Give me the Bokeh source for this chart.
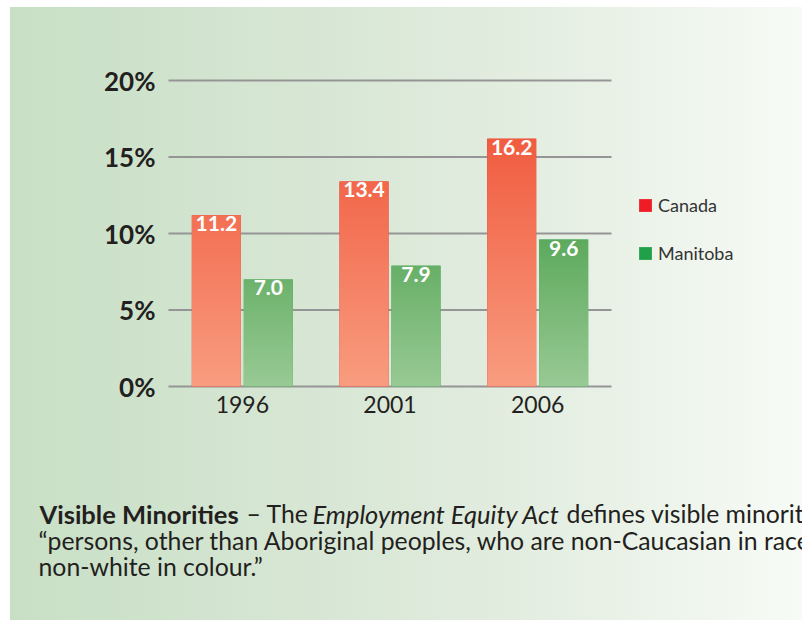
import numpy as np
from bokeh.plotting import figure
from bokeh.models import Range1d, Legend, LegendItem, Label, ColumnDataSource
from bokeh.embed import file_html
from bokeh.resources import INLINE
from bokeh.core.properties import value

# ---- data ----
years = ["1996", "2001", "2006"]
canada = [11.2, 13.4, 16.2]
manitoba = [7.0, 7.9, 9.6]
y_ticks = [0, 5, 10, 15, 20]
y_tick_labels = ["0%", "5%", "10%", "15%", "20%"]
series_names = ["Canada", "Manitoba"]

FONT = "Lato"
W, H = 802, 620
X0_PX, CAT_PX = 168, 147.67     # left edge of category axis, px per category
Y0_PX, UNIT_PX = 386, 15.3      # baseline px, px per percent

# frame covers the whole canvas; ranges map page pixels to data
x_range = Range1d((0 - X0_PX) / CAT_PX, (W - X0_PX) / CAT_PX)
y_range = Range1d((Y0_PX - H) / UNIT_PX, Y0_PX / UNIT_PX)

def dx(px):
    return (px - X0_PX) / CAT_PX

def dy(py):
    return (Y0_PX - py) / UNIT_PX

p = figure(width=W, height=H, output_backend="svg", toolbar_location=None,
           x_range=x_range, y_range=y_range,
           x_axis_location=None, y_axis_location=None,
           min_border=0, min_border_left=0, min_border_right=0,
           min_border_top=0, min_border_bottom=0)
p.background_fill_color = None
p.border_fill_color = None
p.outline_line_color = None
p.grid.visible = False
p.styles = {
    "background-color": "white",
    "background-image": "linear-gradient(to right, #c8dfc5 0%, #d6e6d3 35%, #e3ede0 65%, #f7fbf6 100%)",
    "background-repeat": "no-repeat",
    "background-position": "10px 7px",
    "background-size": "792px 613px",
}

# grid lines across the categories
n = len(years)
p.segment(x0=[0] * len(y_ticks), x1=[n] * len(y_ticks), y0=y_ticks, y1=y_ticks,
          line_color="#959595", line_width=2)

# y tick labels
p.text(x=[0] * len(y_ticks), y=y_ticks, text=y_tick_labels, text_align="right",
       text_baseline="middle", x_offset=-13, text_font=value(FONT), text_font_style="bold",
       text_font_size="26px", text_color="#231f20")

# x (category) labels
centers = [i + 0.5 for i in range(n)]
p.text(x=centers, y=[0] * n, text=years, text_align="center", text_baseline="top",
       y_offset=9, text_font=value(FONT), text_font_size="23px", text_color="#231f20")

OFF, BW = 0.176, 0.332

def hex2rgb(h):
    h = h.lstrip("#")
    return np.array([int(h[i:i + 2], 16) for i in (0, 2, 4)], dtype=float)

def grad_images(vals, c_bottom, c_top, ref):
    c0, c1 = hex2rgb(c_bottom), hex2rgb(c_top)
    imgs = []
    N = 200
    for v in vals:
        ys = (np.arange(N) + 0.5) / N * v
        t = np.clip(ys / ref, 0, 1)[:, None]
        cols = c0 + (c1 - c0) * t
        img = np.empty((N, 1), dtype=np.uint32)
        view = img.view(dtype=np.uint8).reshape((N, 1, 4))
        view[:, 0, 0] = cols[:, 0]
        view[:, 0, 1] = cols[:, 1]
        view[:, 0, 2] = cols[:, 2]
        view[:, 0, 3] = 255
        imgs.append(img)
    return imgs

leg_colors = ["#ee1c25", "#21a04a"]
specs = [
    (canada, -OFF, leg_colors[0], "#f99d80", "#f15c40", 16.2),
    (manitoba, OFF, leg_colors[1], "#99ca95", "#5daa5d", 9.6),
]
items = []
for (vals, off, lcol, cb, ct, ref), name in zip(specs, series_names):
    xs = [c + off for c in centers]
    src = ColumnDataSource(dict(x=xs, top=vals, left=[x - BW / 2 for x in xs],
                                lab=[f"{v:.1f}" for v in vals]))
    r = p.vbar(x="x", top="top", width=BW, bottom=0, source=src, fill_color=lcol, line_color=None)
    items.append(LegendItem(label=name, renderers=[r]))
    # gradient face of each bar
    p.image_rgba(image=grad_images(vals, cb, ct, ref), x=src.data["left"], y=[0] * len(vals),
                 dw=[BW] * len(vals), dh=vals)
    p.text(x="x", y="top", text="lab", source=src, text_align="center", text_baseline="top",
           y_offset=1, text_color="white", text_font=value(FONT), text_font_style="bold",
           text_font_size="21px")

legend = Legend(items=items, location=(637, H - 264), padding=0, margin=0,
                border_line_color=None, background_fill_alpha=0,
                glyph_width=16, glyph_height=16, label_standoff=5, label_height=20,
                spacing=26, label_text_font=FONT, label_text_font_size="18px",
                label_text_color="#333333")
p.add_layout(legend, "center")

# caption
cap_color = "#231f20"
line1 = [("Visible Minorities", 39, "bold", "25.5px"), ("– The", 246, "normal", "24.8px"),
         ("Employment Equity Act", 312, "italic", "25.5px"),
         ("defines visible minorities as", 566, "normal", "24.8px")]
for txt, px, style, fs in line1:
    p.add_layout(Label(x=dx(px), y=dy(513), text=txt, text_font=FONT, text_font_style=style,
                       text_font_size=fs, text_color=cap_color,
                       text_baseline="alphabetic"))
for txt, py in [("“persons, other than Aboriginal peoples, who are non-Caucasian in race or", 540),
                ("non-white in colour.”", 566)]:
    p.add_layout(Label(x=dx(38), y=dy(py), text=txt, text_font=FONT,
                       text_font_size="24.8px", text_color=cap_color,
                       text_baseline="alphabetic"))

open("out.html", "w").write(file_html(p, INLINE))
